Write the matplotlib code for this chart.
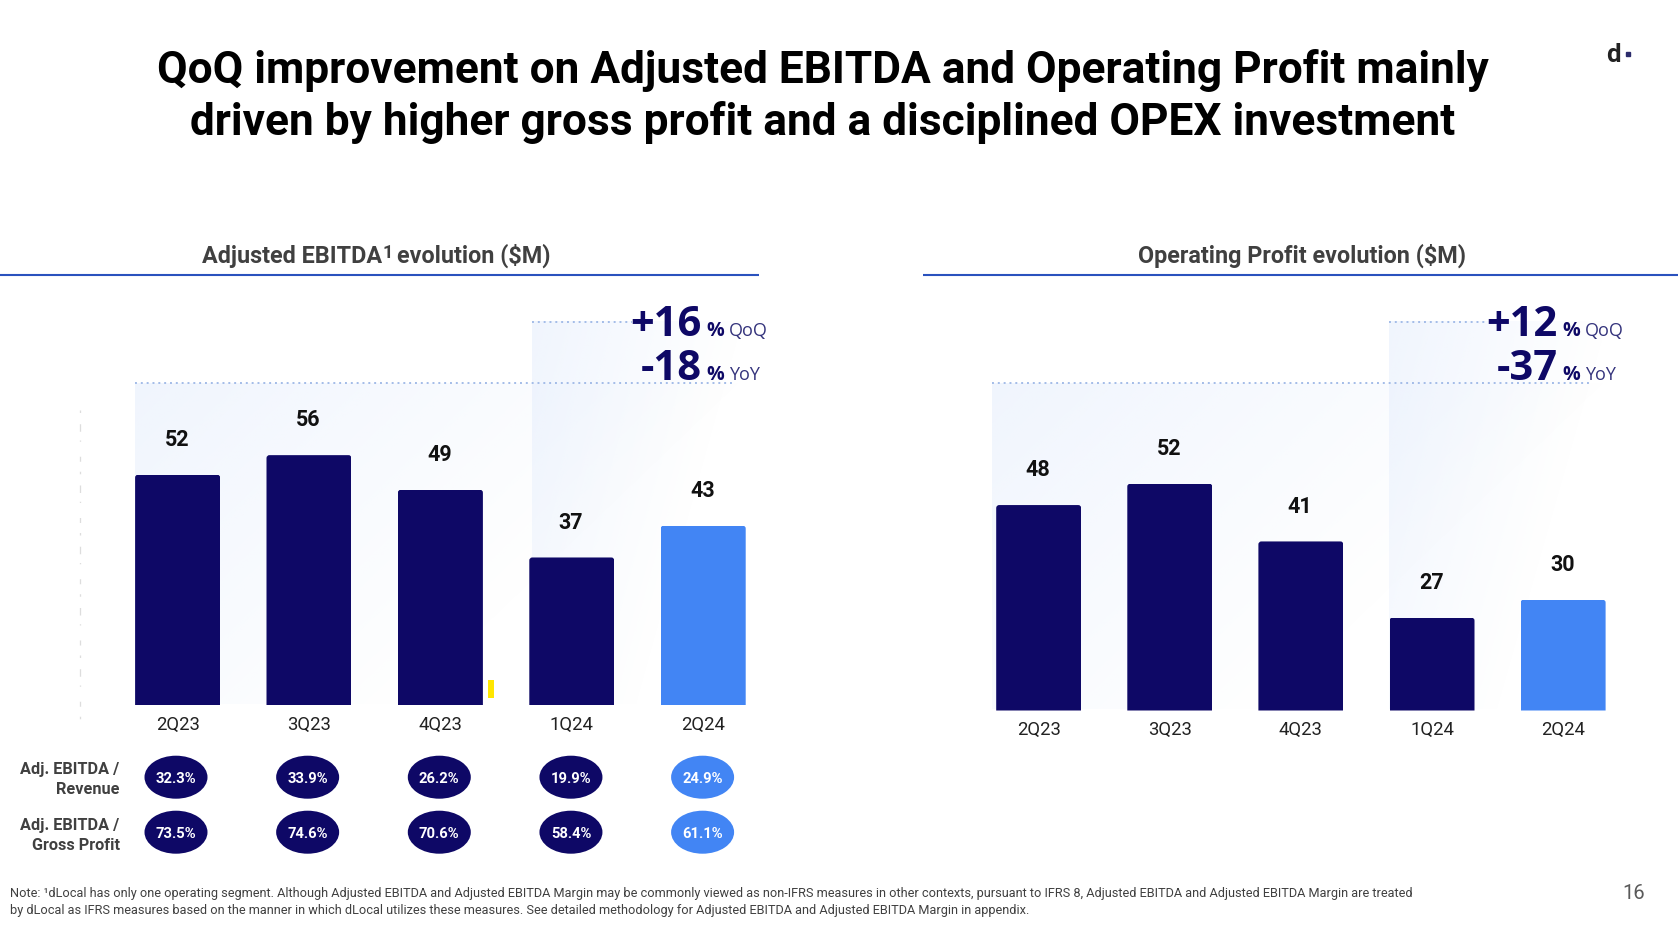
import numpy as np
import matplotlib
matplotlib.use("Agg")
import matplotlib.pyplot as plt
from matplotlib.patches import Ellipse, PathPatch
from matplotlib.path import Path

plt.rcParams["font.family"] = ["Roboto", "DejaVu Sans"]

W, H = 1678, 936

NAVY = "#0E0866"
BLUE = "#4285F4"
GREY = "#404040"
RULE = "#2A52BE"
DOTS = "#A3BCE8"

quarters = ["2Q23", "3Q23", "4Q23", "1Q24", "2Q24"]

# labels printed on the slide
ebitda_labels = [52, 56, 49, 37, 43]
opprofit_labels = [48, 52, 41, 27, 30]

# bar heights as drawn, they do not follow the labels exactly
ebitda_heights = [52, 56.4, 48.6, 33.3, 40.5]
opprofit_heights = [48, 53, 39.5, 21.7, 25.9]

margin_rows = ["Adj. EBITDA /\nRevenue", "Adj. EBITDA /\nGross Profit"]
ebitda_revenue = ["32.3%", "33.9%", "26.2%", "19.9%", "24.9%"]
ebitda_gross = ["73.5%", "74.6%", "70.6%", "58.4%", "61.1%"]

title = ("QoQ improvement on Adjusted EBITDA and Operating Profit mainly\n"
         "driven by higher gross profit and a disciplined OPEX investment")
note_1 = ("Note: ¹dLocal has only one operating segment. Although Adjusted EBITDA and "
          "Adjusted EBITDA Margin may be commonly viewed as non-IFRS measures in other "
          "contexts, pursuant to IFRS 8, Adjusted EBITDA and Adjusted EBITDA Margin are treated")
note_2 = ("by dLocal as IFRS measures based on the manner in which dLocal utilizes these "
          "measures. See detailed methodology for Adjusted EBITDA and Adjusted EBITDA Margin in appendix.")


def px_axes(fig, left, top, right, bottom):
    ax = fig.add_axes([left / W, 1 - bottom / H, (right - left) / W, (bottom - top) / H])
    ax.patch.set_alpha(0)
    for s in ax.spines.values():
        s.set_visible(False)
    return ax


def rounded_top(x0, x1, top, rx, ry):
    verts = [(x0, 0), (x0, top - ry), (x0, top), (x0 + rx, top),
             (x1 - rx, top), (x1, top), (x1, top - ry), (x1, 0), (x0, 0)]
    codes = [Path.MOVETO, Path.LINETO, Path.CURVE3, Path.CURVE3,
             Path.LINETO, Path.CURVE3, Path.CURVE3, Path.LINETO, Path.CLOSEPOLY]
    return Path(verts, codes)


def bar_panel(fig, center0, spacing, baseline, px_per_unit, heights, labels):
    left = center0 - spacing / 2
    ax = px_axes(fig, left, baseline - 60 * px_per_unit, left + 5 * spacing, baseline)
    x = np.arange(5)
    colors = [NAVY] * 4 + [BLUE]
    bars = ax.bar(x, heights, width=85 / spacing, color=colors, linewidth=0, zorder=3)
    rx, ry = 3 / spacing, 3 / px_per_unit
    for b in bars:
        clip = PathPatch(rounded_top(b.get_x(), b.get_x() + b.get_width(), b.get_height(), rx, ry),
                         transform=ax.transData)
        b.set_clip_path(clip)
    for xi, h, lab in zip(x, heights, labels):
        ax.annotate(str(lab), (xi, h), xytext=(-0.5, 25), textcoords="offset points",
                    ha="center", va="center", fontsize=15.5, fontweight="bold", color="#111111")
    ax.set_xlim(-0.5, 4.5)
    ax.set_ylim(0, 60)
    ax.set_yticks([])
    ax.set_xticks(x, quarters, fontsize=13.3, color="#222222")
    ax.tick_params(axis="x", length=0, pad=7.8)
    return ax


def gradient(ax, x0, y0, x1, y1, fx, fy, strength):
    # pale blue wash that fades out to the right and downwards
    gx, gy = np.meshgrid(np.linspace(0, 1, 200), np.linspace(0, 1, 200))
    alpha = np.clip(1 - fx * gx - fy * gy, 0, 1) * strength
    img = np.zeros((200, 200, 4))
    img[..., :3] = matplotlib.colors.to_rgb("#DCE8FC")
    img[..., 3] = alpha
    ax.imshow(img, extent=(x0, x1, y1, y0), aspect="auto", zorder=0, interpolation="bilinear")


def delta(ax, xr, y, big, word):
    ax.text(xr, y, big, ha="right", va="baseline", fontsize=30, fontweight="bold",
            color=NAVY, family=["Open Sans", "DejaVu Sans"], zorder=5)
    ax.text(xr + 4, y, "%", ha="left", va="baseline", fontsize=14.2, fontweight="bold",
            color=NAVY, family=["Open Sans", "DejaVu Sans"], zorder=5)
    ax.text(xr + 27, y, word, ha="left", va="baseline", fontsize=13,
            color="#34337C", family=["Open Sans", "DejaVu Sans"], zorder=5)


fig = plt.figure(figsize=(W / 100, H / 100), dpi=100, facecolor="white")

bg = px_axes(fig, 0, 0, W, H)
bg.set_xticks([])
bg.set_yticks([])

gradient(bg, 135, 383, 745, 704, 1.0, 0.55, 0.42)
gradient(bg, 532, 321, 745, 704, 1.0, 0.5, 0.42)
gradient(bg, 992, 383, 1610, 709, 1.0, 0.55, 0.42)
gradient(bg, 1389, 321, 1610, 709, 1.0, 0.5, 0.42)

bg.set_xlim(0, W)
bg.set_ylim(H, 0)

bg.text(823, 96.5, title, ha="center", va="center", fontsize=31.9, fontweight="bold",
        color="black", linespacing=1.29)

bg.text(202, 262.5, "Adjusted EBITDA", ha="left", va="baseline",
        fontsize=16.8, fontweight="bold", color=GREY)
bg.text(382, 258, "1", ha="left", va="baseline", fontsize=13, fontweight="bold", color=GREY)
bg.text(397, 262.5, "evolution ($M)", ha="left", va="baseline",
        fontsize=16.8, fontweight="bold", color=GREY)
bg.text(1302.5, 262.5, "Operating Profit evolution ($M)", ha="center", va="baseline",
        fontsize=16.8, fontweight="bold", color=GREY)
bg.plot([0, 759], [275, 275], color=RULE, lw=1.5, solid_capstyle="butt")
bg.plot([922.5, W], [275, 275], color=RULE, lw=1.5, solid_capstyle="butt")

dotted = dict(color=DOTS, lw=1.4, ls=(0, (1, 2.0)), zorder=2)
bg.plot([135, 735], [383, 383], **dotted)
bg.plot([532, 632], [321.5, 321.5], **dotted)
bg.plot([992, 1590], [383, 383], **dotted)
bg.plot([1389, 1486], [321.5, 321.5], **dotted)

delta(bg, 702, 336, "+16", "QoQ")
delta(bg, 702, 380, "-18", "YoY")
delta(bg, 1558, 336, "+12", "QoQ")
delta(bg, 1558, 380, "-37", "YoY")

# scanning leftovers on the original slide
bg.plot([80, 80], [410, 722], color="#DDDDDD", lw=0.9, ls=(0, (2, 9, 6, 7, 1, 12, 4, 8)))
bg.plot([491, 491], [680, 698], color="#FFE600", lw=4.3, solid_capstyle="butt")

bar_panel(fig, 177.6, 131.4, 705, 4.43, ebitda_heights, ebitda_labels)
bar_panel(fig, 1038.7, 131.1, 710.5, 4.28, opprofit_heights, opprofit_labels)

# margin ellipses under the left chart
spacing = 131.65
mg = px_axes(fig, 176 - spacing / 2, 749.7, 176 + spacing * 4.5, 859.7)
mg.set_xlim(-0.5, 4.5)
mg.set_ylim(1.5, -0.5)
mg.set_xticks([])
mg.set_yticks([])
for row, vals in enumerate([ebitda_revenue, ebitda_gross]):
    for i, v in enumerate(vals):
        mg.add_patch(Ellipse((i, row), 63 / spacing, 43 / 55, color=BLUE if i == 4 else NAVY, lw=0))
        mg.text(i, row, v, ha="center", va="center_baseline", fontsize=10.6, fontweight="bold", color="white")
    bg.text(119.5, 779.5 + row * 56, margin_rows[row], ha="right", va="center", fontsize=11.7,
            fontweight="bold", color=GREY, linespacing=1.45)

bg.text(9.6, 893.5, note_1, ha="left", va="center", fontsize=9.23, color=GREY)
bg.text(9.6, 910.5, note_2, ha="left", va="center", fontsize=9.23, color=GREY)
bg.text(1634, 893.5, "16", ha="center", va="center", fontsize=14.5, color="#5A5A5A")

bg.text(1606, 61.5, "d", ha="left", va="baseline", fontsize=18.5, fontweight="bold", color="#222222")
bg.plot([1628], [53.7], marker="s", ms=3, color="#2B2B6B", lw=0)

fig.savefig("out.png", dpi=100)
